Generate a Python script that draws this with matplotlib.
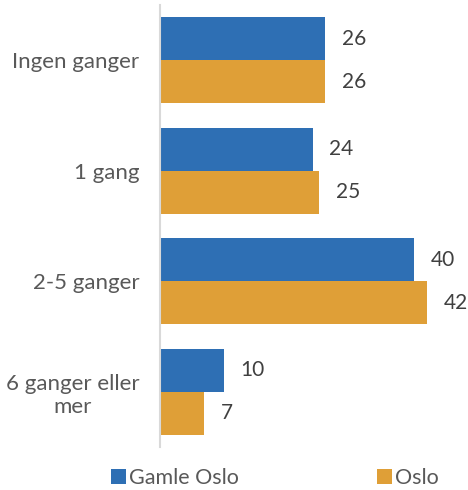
import matplotlib
matplotlib.use("Agg")
import matplotlib.pyplot as plt
import numpy as np

categories = ["Ingen ganger", "1 gang", "2-5 ganger", "6 ganger eller\nmer"]
gamle_oslo = [26, 24, 40, 10]
oslo = [26, 25, 42, 7]
series_names = ["Gamle Oslo", "Oslo"]

blue = "#2E6FB4"
orange = "#DF9F37"

plt.rcParams['font.family'] = ['Lato', 'DejaVu Sans']

fig = plt.figure(figsize=(4.68, 4.90), dpi=100)
ax = fig.add_axes([160 / 468, 43 / 490, 300 / 468, 442 / 490])

y = np.arange(len(categories))
h = 0.39
b1 = ax.barh(y - h / 2, gamle_oslo, height=h, color=blue, label=series_names[0])
b2 = ax.barh(y + h / 2, oslo, height=h, color=orange, label=series_names[1])

for bars in (b1, b2):
    for bar in bars:
        w = bar.get_width()
        ax.annotate(f"{w:g}", (w, bar.get_y() + bar.get_height() / 2),
                    xytext=(12, 0), textcoords="offset points",
                    va="center", ha="left", fontsize=15, color="#404040")

ax.set_ylim(3.5, -0.5)
ax.set_xlim(0, 47.2)
ax.set_yticks(y)
ax.set_yticklabels(categories, fontsize=16, color="#595959", ha="right",
                   multialignment="center")
ax.tick_params(axis="y", length=0, pad=15)
ax.set_xticks([])
for s in ["top", "right", "bottom"]:
    ax.spines[s].set_visible(False)
ax.spines["left"].set_color("#D9D9D9")
ax.spines["left"].set_linewidth(1.5)

fig.legend(loc="lower center", bbox_to_anchor=(0.587, -0.035), ncol=2,
           frameon=False, fontsize=15.5, handlelength=0.7, handleheight=0.7,
           handletextpad=0.15, columnspacing=6.4, labelcolor="#595959")

fig.savefig("out.png", dpi=100)
